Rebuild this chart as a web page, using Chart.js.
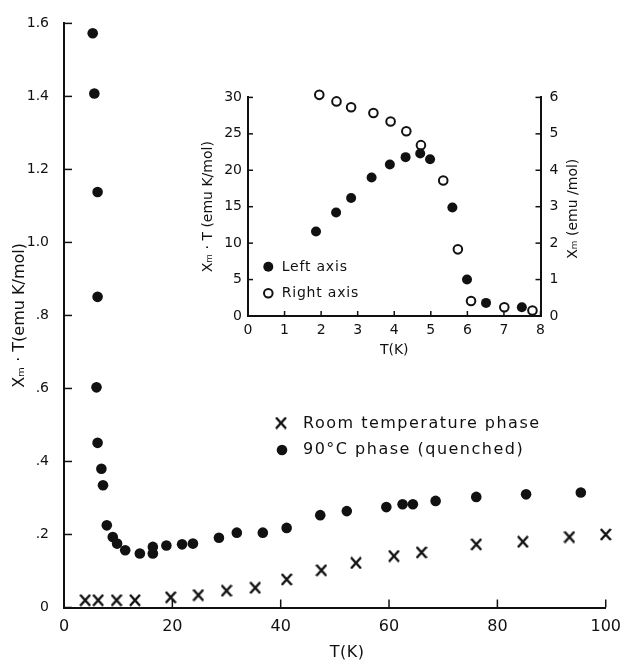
<!DOCTYPE html>
<html>
<head>
<meta charset="utf-8">
<script src="https://cdn.jsdelivr.net/npm/chart.js@4.4.0/dist/chart.umd.min.js"></script>
<style>
html, body { margin: 0; padding: 0; background: #fff; }
#wrap { position: relative; width: 631px; height: 661px; }
#main { position: absolute; left: 0; top: 0; }
#inset { position: absolute; left: 190px; top: 80px; }
</style>
</head>
<body>
<div id="wrap">
	<canvas id="main" width="631" height="661"></canvas>
	<canvas id="inset" width="400" height="290"></canvas>
</div>
<script>
// main plot: room temperature phase (crosses)
var roomT = [3.9, 6.3, 9.7, 13.1, 19.7, 24.8, 30.0, 35.3, 41.1, 47.5, 53.9, 60.9, 66.0, 76.1, 84.7, 93.3, 100]
var roomChiT = [0.020, 0.020, 0.020, 0.020, 0.028, 0.034, 0.046, 0.054, 0.077, 0.102, 0.122, 0.141, 0.151, 0.173, 0.180, 0.193, 0.200]

// main plot: 90°C phase (quenched), filled dots
var quenchT = [5.3, 5.6, 6.2, 6.2, 6.0, 6.2, 6.9, 7.2, 7.9, 9.0, 9.8, 11.3, 14.0, 16.4, 16.4, 18.9, 21.8, 23.8, 28.6, 31.9, 36.7, 41.1, 47.3, 52.2, 59.5, 62.5, 64.4, 68.6, 76.1, 85.3, 95.4]
var quenchChiT = [1.573, 1.408, 1.138, 0.851, 0.603, 0.451, 0.380, 0.335, 0.225, 0.193, 0.175, 0.157, 0.148, 0.148, 0.166, 0.170, 0.173, 0.175, 0.191, 0.205, 0.205, 0.218, 0.253, 0.264, 0.275, 0.283, 0.283, 0.292, 0.303, 0.310, 0.315]

// inset: left axis (Xm·T), filled
var leftT = [1.86, 2.41, 2.82, 3.38, 3.88, 4.31, 4.71, 4.98, 5.59, 5.99, 6.51, 7.49]
var leftChiT = [11.6, 14.2, 16.2, 19.0, 20.8, 21.8, 22.3, 21.5, 14.9, 5.0, 1.8, 1.2]

// inset: right axis (Xm), open
var rightT = [1.95, 2.42, 2.82, 3.43, 3.90, 4.33, 4.73, 5.34, 5.74, 6.10, 7.01, 7.78]
var rightChi = [6.07, 5.89, 5.73, 5.57, 5.34, 5.07, 4.69, 3.72, 1.83, 0.41, 0.24, 0.15]

var mainYTicks = ['0', '.2', '.4', '.6', '.8', '1.0', '1.2', '1.4', '1.6']

var INK = '#111'
var FONT = '"DejaVu Sans", sans-serif'
Chart.defaults.font.family = FONT
Chart.defaults.color = INK

function pts (xs, ys) {
	return xs.map((x, i) => ({ x: x, y: ys[i] }))
}

// little X glyph used as the point style for the crosses
var crossImg = document.createElement('canvas')
crossImg.width = 12
crossImg.height = 13
var cctx = crossImg.getContext('2d')
cctx.strokeStyle = INK
cctx.lineWidth = 2.4
cctx.beginPath()
cctx.moveTo(1, 1)
cctx.lineTo(11, 12)
cctx.moveTo(11, 1)
cctx.lineTo(1, 12)
cctx.stroke()

// ticks drawn on the inside of the axes
function innerTicks (len) {
	return {
		id: 'innerTicks',
		beforeDatasetsDraw (chart) {
			var ctx = chart.ctx
			ctx.save()
			ctx.strokeStyle = INK
			ctx.lineWidth = 1.5
			Object.values(chart.scales).forEach(s => {
				s.ticks.forEach((t, i) => {
					var p = s.getPixelForTick(i)
					ctx.beginPath()
					if (s.isHorizontal()) {
						ctx.moveTo(p, s.top)
						ctx.lineTo(p, s.top - len)
					} else if (s.position === 'left') {
						ctx.moveTo(s.right, p)
						ctx.lineTo(s.right + len, p)
					} else {
						ctx.moveTo(s.left, p)
						ctx.lineTo(s.left - len, p)
					}
					ctx.stroke()
				})
			})
			ctx.restore()
		}
	}
}

var mainLegend = {
	id: 'mainLegend',
	afterDraw (chart) {
		var ctx = chart.ctx
		ctx.save()
		ctx.font = '16px ' + FONT
		ctx.letterSpacing = '1.5px'
		ctx.fillStyle = INK
		ctx.textBaseline = 'middle'
		ctx.drawImage(crossImg, 281 - 6, 423 - 6.5)
		ctx.fillText('Room temperature phase', 303, 424)
		ctx.beginPath()
		ctx.arc(282, 450, 5.3, 0, Math.PI * 2)
		ctx.fill()
		ctx.fillText('90°C phase (quenched)', 303, 450)
		// x axis title, sits a little right of centre in the original
		ctx.letterSpacing = '0.5px'
		ctx.textAlign = 'center'
		ctx.fillText('T(K)', 347, 653)
		ctx.restore()
	}
}

var insetLegend = {
	id: 'insetLegend',
	afterDraw (chart) {
		var ctx = chart.ctx
		var area = chart.chartArea
		ctx.save()
		ctx.font = '14px ' + FONT
		ctx.letterSpacing = '0.8px'
		ctx.fillStyle = INK
		ctx.strokeStyle = INK
		ctx.lineWidth = 2
		ctx.textBaseline = 'middle'
		ctx.beginPath()
		ctx.arc(78.3, 186.7, 5, 0, Math.PI * 2)
		ctx.fill()
		ctx.fillText('Left axis', 91.7, 187)
		ctx.beginPath()
		ctx.arc(78.3, 213.3, 4.3, 0, Math.PI * 2)
		ctx.stroke()
		ctx.fillText('Right axis', 91.7, 213.6)
		// right axis title reads bottom to top, like the left one
		ctx.letterSpacing = '0px'
		ctx.textAlign = 'center'
		ctx.translate(chart.scales.yR.right - 17, (area.top + area.bottom) / 2 + 2)
		ctx.rotate(-Math.PI / 2)
		ctx.fillText('Xₘ (emu /mol)', 0, 0)
		ctx.restore()
	}
}

var axisBase = {
	grid: { display: true, drawOnChartArea: false, drawTicks: false },
	border: { display: true, width: 2, color: INK }
}

new Chart(document.getElementById('main').getContext('2d'), {
	type: 'scatter',
	data: {
		datasets: [{
			label: 'Room temperature phase',
			data: pts(roomT, roomChiT),
			pointStyle: crossImg,
			pointRadius: 6,
			clip: false
		}, {
			label: '90°C phase (quenched)',
			data: pts(quenchT, quenchChiT),
			pointStyle: 'circle',
			pointRadius: 5.3,
			backgroundColor: INK,
			borderWidth: 0,
			clip: false
		}]
	},
	options: {
		responsive: false,
		animation: false,
		layout: { padding: { top: 21.7, right: 21, left: 0, bottom: 0 } },
		plugins: { legend: { display: false }, tooltip: { enabled: false } },
		scales: {
			x: Object.assign({}, axisBase, {
				type: 'linear',
				min: 0,
				max: 100,
				ticks: { stepSize: 20, padding: 10, maxRotation: 0, font: { size: 16 } },
				afterFit (s) { s.height = 53.5 }
			}),
			y: Object.assign({}, axisBase, {
				min: 0,
				max: 1.6,
				ticks: {
					stepSize: 0.2,
					padding: 15,
					font: { size: 14 },
					callback: (v, i) => mainYTicks[i]
				},
				title: { display: true, text: 'Xₘ · T(emu K/mol)', font: { size: 16 }, padding: { top: 10 } },
				afterFit (s) { s.width = 64 }
			})
		}
	},
	plugins: [innerTicks(8), mainLegend]
})

new Chart(document.getElementById('inset').getContext('2d'), {
	type: 'scatter',
	data: {
		datasets: [{
			label: 'Left axis',
			data: pts(leftT, leftChiT),
			yAxisID: 'yL',
			pointStyle: 'circle',
			pointRadius: 5,
			backgroundColor: INK,
			borderWidth: 0,
			clip: false
		}, {
			label: 'Right axis',
			data: pts(rightT, rightChi),
			yAxisID: 'yR',
			pointStyle: 'circle',
			pointRadius: 4.3,
			backgroundColor: '#fff',
			borderColor: INK,
			borderWidth: 2,
			clip: false
		}]
	},
	options: {
		responsive: false,
		animation: false,
		layout: { padding: { top: 15.7, right: 0, left: 0, bottom: 0 } },
		plugins: { legend: { display: false }, tooltip: { enabled: false } },
		scales: {
			x: Object.assign({}, axisBase, {
				type: 'linear',
				min: 0,
				max: 8,
				ticks: { stepSize: 1, padding: 6, maxRotation: 0, font: { size: 14 } },
				title: { display: true, text: 'T(K)', font: { size: 14 }, padding: { bottom: 11 } },
				afterFit (s) { s.height = 54 }
			}),
			yL: Object.assign({}, axisBase, {
				position: 'left',
				min: 0,
				max: 30,
				ticks: { stepSize: 5, padding: 6, font: { size: 14 } },
				title: { display: true, text: 'Xₘ · T (emu K/mol)', font: { size: 14 }, padding: { top: 9.6 } },
				afterFit (s) { s.width = 58 }
			}),
			yR: Object.assign({}, axisBase, {
				position: 'right',
				min: 0,
				max: 6,
				ticks: { stepSize: 1, padding: 9, font: { size: 14 } },
				afterFit (s) { s.width = 49.5 }
			})
		}
	},
	plugins: [innerTicks(5), insetLegend]
})
</script>
</body>
</html>
